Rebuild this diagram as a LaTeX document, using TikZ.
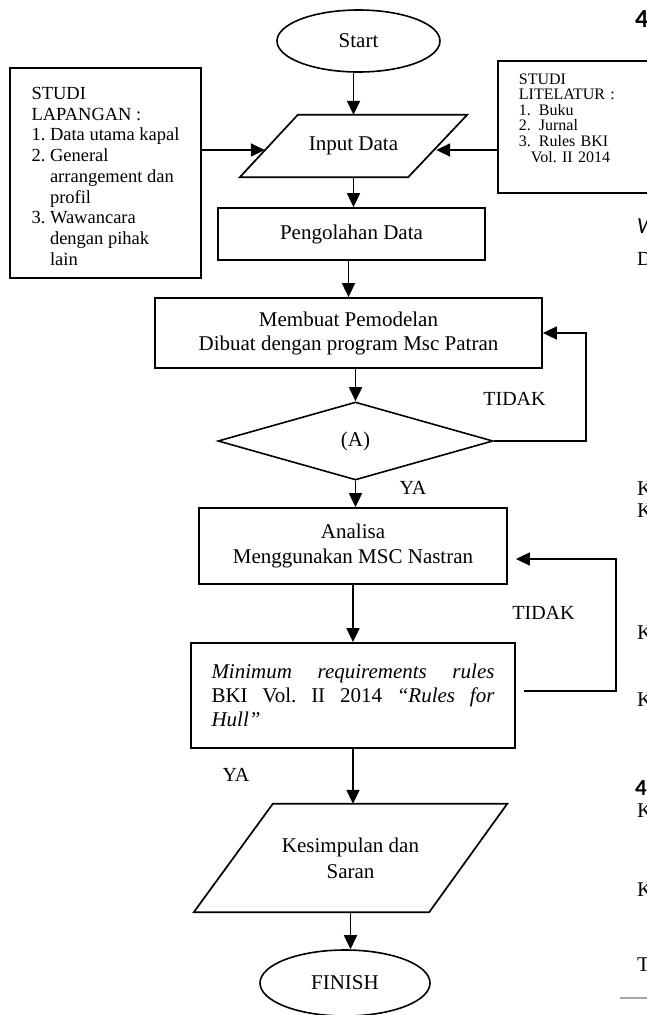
\documentclass[tikz,border=0pt]{standalone}
\usepackage{fontspec}
\setmainfont{Liberation Serif}
\newfontfamily\carl{Carlito}
\usetikzlibrary{shapes.geometric,arrows.meta}
\frenchspacing
\begin{document}
\begin{tikzpicture}[x=1pt,y=-1pt,
  every node/.style={font=\fontsize{21}{24}\selectfont},
  box/.style={draw,line width=1.8pt,inner sep=0pt},
  shp/.style={line width=1.7pt},
  arr/.style={line width=1.8pt,-{Triangle[length=14pt,width=13pt]}},
  lbl/.style={font=\fontsize{20}{24}\selectfont,inner sep=0pt},
  frag/.style={anchor=base west,inner sep=0pt}]
\useasboundingbox (0,0) rectangle (647,1015);

% main flow
\node[box,ellipse,line width=1.6pt,minimum width=163pt,minimum height=62pt] (start) at (358.5,41) {Start};
\node[inner sep=0pt,minimum width=227pt,minimum height=62pt] (input) at (353.5,146) {Input Data\hspace{8pt}};
\draw[shp] ([xshift=58pt]input.north west) -- (input.north east) -- ([xshift=-59pt]input.south east) -- (input.south west) -- cycle;
\node[box,minimum width=267pt,minimum height=52pt] (peng) at (351.5,234) {Pengolahan Data};
\node[box,minimum width=387pt,minimum height=70pt,align=center] (memb) at (348.5,333) {Membuat Pemodelan\\Dibuat dengan program Msc Patran};
\node[box,diamond,line width=1.6pt,aspect=3.526,minimum width=275pt,minimum height=78pt] (dia) at (355.5,441) {(A)\hspace{10pt}};
\node[box,minimum width=308pt,minimum height=76pt,align=center,font=\fontsize{21}{25.5}\selectfont] (anal) at (353,546) {Analisa\\Menggunakan MSC Nastran};
\node[box,minimum width=324pt,minimum height=105pt,text width=283pt,align=justify] (mini) at (353,695.5)
  {\textit{Minimum requirements rules}\linebreak BKI Vol. II 2014 \textit{“Rules for}\linebreak \textit{Hull”}};
\node[inner sep=0pt,minimum width=313pt,minimum height=108pt,align=center,font=\fontsize{21}{26}\selectfont] (kes) at (350.5,858) {Kesimpulan dan\\Saran};
\draw[shp] ([xshift=79pt]kes.north west) -- (kes.north east) -- ([xshift=-78pt]kes.south east) -- (kes.south west) -- cycle;
\node[box,ellipse,line width=1.6pt,minimum width=170pt,minimum height=66pt] (fin) at (345,983) {FINISH};

% side boxes
\node[box,minimum width=191pt,minimum height=210pt,font=\fontsize{18.5}{20.7}\selectfont] (lap) at (105.5,173)
  {\begin{tabular}{@{}l@{ }l@{}}
   \multicolumn{2}{@{}l@{}}{\rule{0pt}{25pt}STUDI}\\
   \multicolumn{2}{@{}l@{}}{LAPANGAN :}\\
   1. & Data utama kapal\\
   2. & General\\
      & arrangement dan\\
      & profil\\
   3. & Wawancara\\
      & dengan pihak\\
      & lain
   \end{tabular}};
\node[box,anchor=north west,inner xsep=21pt,text width=130pt,align=left,minimum height=132pt,font=\fontsize{16}{15}\selectfont] (lit) at (497,60)
  {\begin{tabular}{@{}p{20pt}@{}l@{}}
   \multicolumn{2}{@{}l@{}}{STUDI}\\
   \multicolumn{2}{@{}l@{}}{LITELATUR :}\\
   1. & Buku\\
   2. & Jurnal\\
   3. & Rules BKI\\
   \multicolumn{2}{@{}l@{}}{\hspace{12pt}Vol. II 2014}\\[13pt]
   \end{tabular}};

% connection points on slanted edges
\coordinate (inL) at ([xshift=25pt,yshift=-4pt]input.west);
\coordinate (inR) at ([xshift=-31pt,yshift=-4pt]input.east);

% connectors
\draw[arr] (input.north |- start.south) -- (input.north);
\draw[arr] (lap.east |- inL) -- (inL);
\draw[arr] (lit.west |- inR) -- (inR);
\draw[arr] (input.south) -- (input.south |- peng.north);
\draw[arr] (memb.north |- peng.south) -- (memb.north);
\draw[arr] (dia.north |- memb.south) -- (dia.north);
\draw[arr] (dia.south) -- (dia.south |- anal.north);
\draw[arr] (anal.south) -- (anal.south |- mini.north);
\draw[arr] (mini.south) -- (mini.south |- kes.north);
\draw[arr] (kes.south) -- (kes.south |- fin.north);
\draw[arr] (dia.east) -- ++(92,0) |- (memb.east);
\draw[arr] ([xshift=8pt,yshift=4.5pt]mini.east) -- ++(92,0) |- ([xshift=8pt,yshift=-13pt]anal.east);

% labels
\node[lbl] (tidak1) at (514.5,399) {TIDAK};
\node[lbl] (tidak2) at (543.5,613) {TIDAK};
\node[lbl] (ya1) at (413,488) {YA};
\node[lbl] (ya2) at (236,775) {YA};

% cut-off text of the page at the right edge
\begin{scope}
\clip (0,0) rectangle (647,1015);
\node[frag,font=\carl\bfseries\fontsize{26}{26}\selectfont] (f1) at (635,27) {4};
\node[frag,font=\carl\itshape\fontsize{23}{23}\selectfont] (f2) at (637,233) {W};
\node[frag,font=\fontsize{20}{20}\selectfont] (f3) at (637,265) {D};
\node[frag,font=\fontsize{21}{21}\selectfont] (f4) at (637,495) {K};
\node[frag,font=\fontsize{21}{21}\selectfont] (f5) at (637,517) {K};
\node[frag,font=\fontsize{21}{21}\selectfont] (f6) at (637,639) {K};
\node[frag,font=\fontsize{21}{21}\selectfont] (f7) at (637,706) {K};
\node[frag,font=\carl\bfseries\fontsize{23}{23}\selectfont] (f8) at (635,795) {4};
\node[frag,font=\fontsize{21}{21}\selectfont] (f9) at (637,817) {K};
\node[frag,font=\fontsize{21}{21}\selectfont] (f10) at (637,896) {K};
\node[frag,font=\fontsize{21}{21}\selectfont] (f11) at (637,971) {T};
\draw[gray!70,line width=1.5pt] (620,998) -- (647,998);
\end{scope}
\end{tikzpicture}
\end{document}
